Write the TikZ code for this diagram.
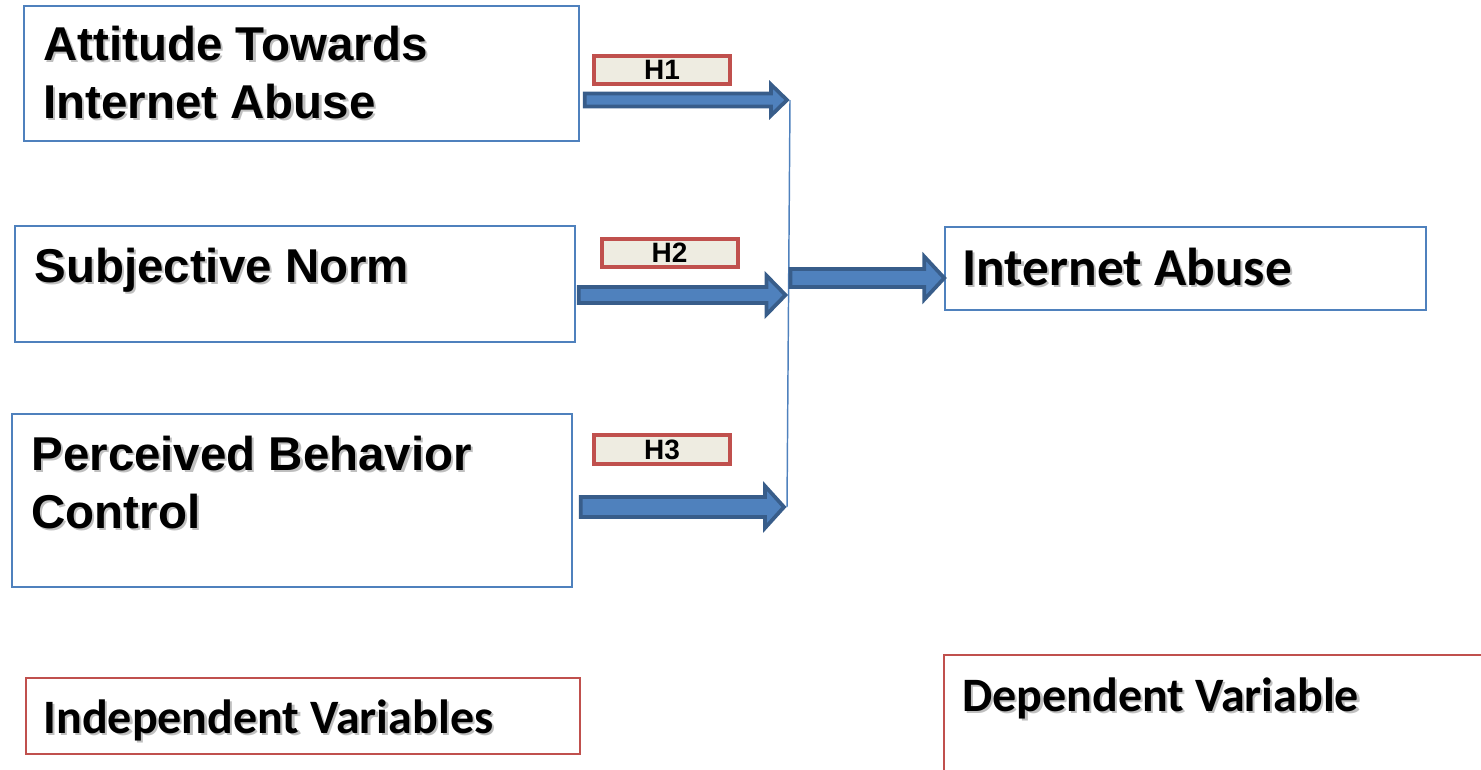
\documentclass[tikz,border=0pt]{standalone}
\usepackage{fontspec}
\setmainfont{Liberation Sans}
\newfontfamily\calibrifont{Carlito}
\usetikzlibrary{calc,fit}
\tikzset{every picture/.style={line width=0.75pt}}
\definecolor{boxblue}{RGB}{79,129,189}
\definecolor{arrowedge}{RGB}{56,93,138}
\definecolor{hred}{RGB}{192,80,77}
\definecolor{hfill}{RGB}{238,236,225}
% text with a soft grey drop shadow
\newcommand{\shtext}[1]{\rlap{\hspace{1.6pt}\raisebox{-1.6pt}{\textcolor{black!25}{#1}}}#1}
% block arrow: start, end, shaft half, head half, head length
\newcommand{\blockarrow}[5]{%
  \draw[blockarrow] ($(#1)+(0,-#3)$) -- ($(#2)+(-#5-3,-#3)$) -- ($(#2)+(-#5-3,-#4)$) -- ($(#2)+(-3,0)$) -- ($(#2)+(-#5-3,#4)$) -- ($(#2)+(-#5-3,#3)$) -- ($(#1)+(0,#3)$) -- cycle;}
\tikzset{
  varbox/.style={draw=boxblue, line width=1.1pt, inner sep=0pt},
  labelbox/.style={draw=hred, line width=1.1pt, inner sep=0pt},
  blockarrow/.style={draw=arrowedge, fill=boxblue, line width=2.8pt, line join=miter},
  hlabel/.style={draw=hred, fill=hfill, line width=3pt, minimum width=102pt, minimum height=21.5pt, inner sep=0pt, font=\bfseries\fontsize{21}{21}\selectfont},
  arialtxt/.style={anchor=base west, align=left, inner sep=0pt, font=\bfseries\fontsize{35.6}{43.5}\selectfont},
  calibritxt/.style={anchor=base west, inner sep=0pt, font=\calibrifont\bfseries\fontsize{36}{42}\selectfont}
}
\begin{document}
\begin{tikzpicture}[x=0.75pt,y=0.75pt,yscale=-1,xscale=1]
\useasboundingbox (0,0) rectangle (1481,769);
\clip (0,0) rectangle (1481,769);

%Shape: Rectangle [independent]
\node[varbox, fit={(24,6) (579,141)}] (att) {};
\node[varbox, fit={(15,226) (575,342)}] (sub) {};
\node[varbox, fit={(12,414) (572,587)}] (pbc) {};
%Shape: Rectangle [dependent]
\node[varbox, fit={(945,227) (1426,310)}] (ia) {};
%Shape: Rectangle [legend]
\node[labelbox, fit={(26,678) (580,754)}] (ind) {};
\node[labelbox, fit={(944,655) (1495,790)}] (dep) {};

% Text Node (base = last line)
\node[arialtxt] (atttxt) at (43,118) {\shtext{Attitude Towards}\\\shtext{Internet Abuse}};
% Text Node
\node[arialtxt] (subtxt) at (34,282) {\shtext{Subjective Norm}};
% Text Node (base = last line)
\node[arialtxt] (pbctxt) at (31,528) {\shtext{Perceived Behavior}\\\shtext{Control}};
% Text Node
\node[calibritxt, font=\calibrifont\bfseries\fontsize{40}{46}\selectfont] (iatxt) at (962,285) {\shtext{Internet Abuse}};
% Text Node
\node[calibritxt] (indtxt) at (43,733) {\shtext{Independent Variables}};
% Text Node
\node[calibritxt] (deptxt) at (962,711) {\shtext{Dependent Variable}};

%Straight Lines [junction]
\coordinate (j1) at (790,100);
\coordinate (j2) at (788.5,295);
\coordinate (j3) at (787,507);
\coordinate (jm) at (790.5,278);
\draw[boxblue, line width=1.1pt] (j1) -- (j3);

%Shape: Right Arrow
\coordinate (a1s) at ($(att.east |- j1)+(5,0)$);
\coordinate (a2s) at ($(sub.east |- j2)+(3,0)$);
\coordinate (a3s) at ($(pbc.east |- j3)+(8,0)$);
\coordinate (iae) at ($(ia.west |- jm)+(3,0)$);
\blockarrow{a1s}{j1}{6.5}{15.5}{16}
\blockarrow{a2s}{j2}{8}{19.5}{19}
\blockarrow{a3s}{j3}{10}{21}{19}
\blockarrow{jm}{iae}{9}{21.5}{20}

% Text Node
\node[hlabel] (h1) at (662,70) {H1};
% Text Node
\node[hlabel] (h2) at (669.5,253) {H2};
% Text Node
\node[hlabel] (h3) at (662,449.5) {H3};

\end{tikzpicture}
\end{document}
